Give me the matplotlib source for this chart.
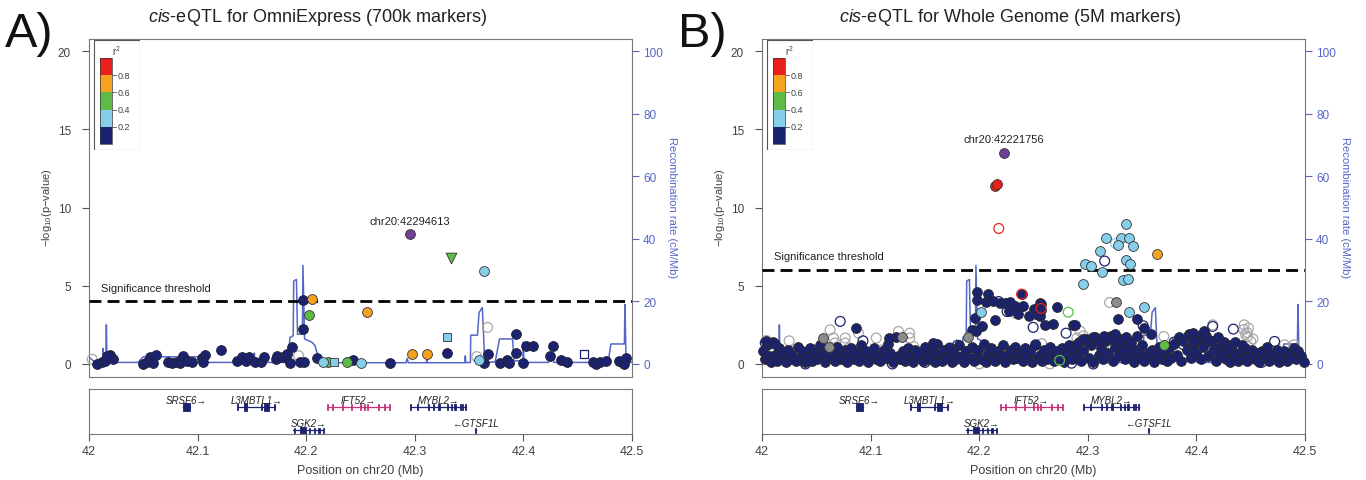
import numpy as np
import matplotlib.pyplot as plt
import matplotlib.patches as mpatches

plt.rcParams['font.family'] = ['Liberation Sans', 'DejaVu Sans']
plt.rcParams['mathtext.fontset'] = 'custom'
plt.rcParams['mathtext.rm'] = 'Liberation Sans'
plt.rcParams['mathtext.it'] = 'Liberation Sans:italic'

# ── colours ────────────────────────────────────────────────────────────────
NAVY   = '#1B2270'
LBLUE  = '#87CEEB'
GREEN  = '#5DBB46'
ORANGE = '#F5A21E'
RED    = '#E8211C'
PURPLE = '#6F3F98'
GREY_H = '#A8A8A8'
GREY_F = '#8C8C8C'
RECOMB = '#5566C8'
TXT    = '#404040'

# ── recombination rate (cM/Mb), same map for both panels ───────────────────
rec_pos = [42.000, 42.004, 42.007, 42.0128, 42.013, 42.0133, 42.0155, 42.016, 42.0166,
           42.045, 42.050, 42.100, 42.110, 42.152, 42.1523, 42.1526, 42.181, 42.1813,
           42.1816, 42.1835, 42.185, 42.188, 42.1885, 42.191, 42.192, 42.1965, 42.197,
           42.1985, 42.205, 42.208, 42.212, 42.220, 42.292, 42.293, 42.294, 42.3108,
           42.311, 42.3113, 42.346, 42.3465, 42.347, 42.3512, 42.3515, 42.3577, 42.3592,
           42.3622, 42.3644, 42.374, 42.378, 42.390, 42.3914, 42.3995, 42.400, 42.4005,
           42.423, 42.425, 42.427, 42.428, 42.478, 42.4806, 42.493, 42.4935, 42.4945,
           42.496, 42.500]
rec_val = [2.2, 1.0, 0.3, 0.5, 5.0, 0.5, 0.5, 12.5, 0.5,
           0.5, 2.3, 2.3, 0.5, 0.5, 3.5, 0.5, 0.5, 2.0,
           0.5, 0.6, 8.5, 9.0, 26.5, 27.0, 9.5, 9.5, 31.5,
           8.0, 7.0, 6.0, 1.0, 0.4, 0.4, 1.8, 0.4, 0.4,
           4.3, 0.4, 0.4, 2.6, 0.4, 0.5, 9.2, 9.2, 16.5,
           18.0, 0.6, 0.6, 8.0, 8.0, 1.0, 1.0, 7.0, 0.5,
           0.5, 3.0, 3.0, 0.5, 0.5, 6.4, 6.4, 19.0, 2.0,
           0.5, 0.5]

# ── panel A: OmniExpress ───────────────────────────────────────────────────
a_navy_pos = [42.007, 42.0117, 42.015, 42.019, 42.022, 42.017, 42.050, 42.053, 42.056, 42.059,
              42.062, 42.073, 42.076, 42.081, 42.084, 42.087, 42.090, 42.095, 42.104, 42.107,
              42.105, 42.122, 42.136, 42.141, 42.145, 42.147, 42.153, 42.158, 42.161, 42.172,
              42.173, 42.179, 42.182, 42.187, 42.185, 42.194, 42.197, 42.197, 42.198, 42.210,
              42.243, 42.277, 42.330, 42.364, 42.367, 42.378, 42.385, 42.387, 42.393, 42.393,
              42.400, 42.402, 42.409, 42.4246, 42.4268, 42.4345, 42.4406, 42.4637, 42.4668, 42.4708,
              42.476, 42.4883, 42.4923, 42.4945]
a_navy_val = [0.0, 0.15, 0.2, 0.57, 0.32, 0.5, 0.0, 0.15, 0.43, 0.04,
              0.57, 0.1, 0.04, 0.1, 0.04, 0.5, 0.2, 0.15, 0.36, 0.57,
              0.1, 0.92, 0.2, 0.47, 0.2, 0.47, 0.1, 0.1, 0.43, 0.32,
              0.53, 0.43, 0.64, 1.07, 0.04, 0.1, 2.24, 4.09, 0.1, 0.36,
              0.25, 0.06, 0.70, 0.06, 0.62, 0.06, 0.28, 0.06, 1.92, 0.70,
              0.06, 1.13, 1.13, 0.53, 1.13, 0.28, 0.15, 0.15, 0.0, 0.15,
              0.19, 0.19, 0.0, 0.36]
a_hollow_pos = [42.003, 42.193, 42.357, 42.367]
a_hollow_val = [0.3, 0.53, 0.47, 2.34]
a_orange_pos = [42.205, 42.256, 42.297, 42.311]
a_orange_val = [4.15, 3.35, 0.62, 0.62]
a_green_pos = [42.203, 42.220, 42.238]
a_green_val = [3.13, 0.10, 0.15]
a_lblue_pos = [42.364, 42.2155, 42.250, 42.359]
a_lblue_val = [5.96, 0.10, 0.05, 0.28]
a_lblue_sq_pos = [42.226, 42.330]
a_lblue_sq_val = [0.15, 1.70]
a_green_tri_pos = [42.333]
a_green_tri_val = [6.75]
a_navy_sq_pos = [42.456]
a_navy_sq_val = [0.62]
a_lead = (42.2955, 8.29)
a_lead_label = 'chr20:42294613'
a_thresh = 4.0

# ── panel B: whole genome ──────────────────────────────────────────────────
b_navy_pos = [
    42.001, 42.003, 42.005, 42.006, 42.008, 42.010, 42.012, 42.014, 42.016, 42.018,
    42.020, 42.022, 42.024, 42.026, 42.028, 42.031, 42.033, 42.035, 42.037, 42.040,
    42.042, 42.044, 42.046, 42.049, 42.051, 42.053, 42.055, 42.058, 42.060, 42.062,
    42.064, 42.067, 42.069, 42.071, 42.073, 42.076, 42.078, 42.080, 42.082, 42.085,
    42.087, 42.089, 42.091, 42.094, 42.096, 42.098, 42.100, 42.103, 42.105, 42.107,
    42.109, 42.112, 42.114, 42.116, 42.118, 42.121, 42.123, 42.125, 42.127, 42.130,
    42.132, 42.134, 42.136, 42.139, 42.141, 42.143, 42.145, 42.148, 42.150, 42.152,
    42.154, 42.157, 42.159, 42.161, 42.163, 42.166, 42.168, 42.170, 42.172, 42.175,
    42.177, 42.179, 42.181, 42.184, 42.186, 42.188, 42.190, 42.193, 42.195, 42.197,
    42.199, 42.202, 42.204, 42.206, 42.208, 42.211, 42.213, 42.215, 42.217, 42.220,
    42.222, 42.224, 42.226, 42.229, 42.231, 42.233, 42.235, 42.238, 42.240, 42.242,
    42.244, 42.247, 42.249, 42.251, 42.253, 42.256, 42.258, 42.260, 42.262, 42.265,
    42.267, 42.269, 42.271, 42.274, 42.276, 42.278, 42.280, 42.283, 42.285, 42.287,
    42.289, 42.292, 42.294, 42.296, 42.298, 42.301, 42.303, 42.305, 42.307, 42.310,
    42.312, 42.314, 42.316, 42.319, 42.321, 42.323, 42.325, 42.328, 42.330, 42.332,
    42.334, 42.337, 42.339, 42.341, 42.343, 42.346, 42.348, 42.350, 42.352, 42.355,
    42.357, 42.359, 42.361, 42.364, 42.366, 42.368, 42.370, 42.373, 42.375, 42.377,
    42.379, 42.382, 42.384, 42.386, 42.388, 42.391, 42.393, 42.395, 42.397, 42.400,
    42.402, 42.404, 42.406, 42.409, 42.411, 42.413, 42.415, 42.418, 42.420, 42.422,
    42.424, 42.427, 42.429, 42.431, 42.433, 42.436, 42.438, 42.440, 42.442, 42.445,
    42.447, 42.449, 42.451, 42.454, 42.456, 42.458, 42.460, 42.463, 42.465, 42.467,
    42.469, 42.472, 42.474, 42.476, 42.478, 42.481, 42.483, 42.485, 42.487, 42.490,
    42.492, 42.494, 42.496, 42.499]
b_navy_val = [
    0.8, 0.3, 1.2, 0.5, 0.1, 1.4, 0.6, 0.2, 1.0, 0.4,
    0.7, 0.1, 0.9, 0.3, 0.6, 0.2, 1.1, 0.4, 0.8, 0.1,
    0.5, 1.0, 0.2, 0.7, 0.3, 1.2, 0.6, 0.1, 0.9, 0.4,
    0.8, 0.2, 1.1, 0.5, 0.3, 0.9, 0.1, 0.6, 1.0, 0.3,
    0.7, 0.2, 1.2, 0.4, 0.8, 0.1, 0.6, 1.0, 0.3, 0.5,
    0.2, 0.9, 0.4, 1.3, 0.7, 0.1, 1.7, 0.5, 0.3, 0.8,
    0.2, 1.0, 0.6, 0.1, 0.9, 0.4, 0.7, 0.2, 1.1, 0.5,
    0.3, 0.8, 0.1, 1.3, 0.6, 0.2, 0.9, 0.4, 1.0, 0.1,
    0.7, 0.3, 1.2, 0.5, 0.1, 0.8, 0.4, 1.1, 0.2, 0.6,
    0.9, 0.3, 1.3, 0.1, 0.7, 1.0, 0.4, 0.2, 0.8, 0.5,
    1.2, 0.1, 0.6, 0.9, 0.3, 1.1, 0.4, 0.7, 0.2, 1.0,
    0.5, 0.8, 0.1, 1.2, 0.4, 0.6, 0.2, 0.9, 0.3, 1.1,
    0.6, 0.2, 0.8, 0.4, 1.0, 0.1, 0.7, 1.2, 0.3, 0.9,
    0.5, 1.4, 0.2, 0.8, 1.6, 0.4, 1.2, 0.1, 1.7, 0.6,
    1.0, 0.3, 1.5, 0.7, 1.8, 0.2, 1.1, 0.5, 1.6, 0.9,
    0.3, 1.3, 0.6, 1.0, 0.1, 0.8, 0.4, 1.2, 0.2, 0.7,
    0.5, 0.9, 0.1, 0.6, 1.1, 0.3, 0.8, 0.2, 1.0, 0.4,
    1.3, 0.6, 1.7, 0.2, 1.5, 0.9, 1.9, 0.4, 1.2, 0.7,
    1.6, 0.3, 1.1, 1.8, 0.5, 1.4, 0.8, 0.2, 1.0, 0.6,
    1.2, 0.3, 0.8, 0.1, 0.9, 0.5, 0.2, 0.7, 0.4, 1.0,
    0.2, 0.6, 0.9, 0.3, 0.7, 0.1, 0.8, 0.4, 1.1, 0.2,
    0.6, 0.3, 0.9, 0.1, 0.5, 0.8, 0.2, 0.7, 0.4, 1.0,
    0.3, 0.8, 0.5, 0.1]
# navy points standing above the bulk
b_navy_hi_pos = [42.198, 42.198, 42.208, 42.206, 42.213, 42.219, 42.224, 42.228, 42.239, 42.227,
                 42.246, 42.256, 42.256, 42.261, 42.215, 42.203, 42.196, 42.193, 42.197, 42.087,
                 42.117, 42.157, 42.257, 42.257, 42.272, 42.268, 42.286, 42.288, 42.328, 42.345,
                 42.233, 42.240, 42.250, 42.252, 42.236, 42.300, 42.305, 42.310, 42.315, 42.320,
                 42.325, 42.330, 42.335, 42.340, 42.345, 42.352, 42.358, 42.296, 42.290, 42.392,
                 42.397, 42.402, 42.405, 42.410, 42.414, 42.420, 42.425, 42.430, 42.436, 42.442,
                 42.398, 42.407, 42.004, 42.012]
b_navy_hi_val = [4.63, 4.06, 4.46, 3.99, 4.03, 3.89, 3.89, 3.95, 4.46, 3.40,
                 3.04, 3.89, 3.04, 2.50, 2.82, 2.40, 2.93, 2.18, 2.08, 2.29,
                 1.66, 1.34, 3.82, 3.46, 3.61, 2.55, 2.50, 2.50, 2.89, 2.89,
                 3.70, 3.70, 3.50, 3.20, 3.20, 1.40, 1.70, 1.50, 1.80, 1.60,
                 1.90, 1.50, 1.70, 1.40, 1.80, 2.30, 1.90, 1.60, 1.30, 1.80,
                 2.00, 1.70, 1.90, 1.60, 1.50, 1.70, 1.40, 1.20, 1.40, 1.20,
                 1.50, 2.08, 1.50, 1.30]
b_navy_h_pos = [42.003, 42.072, 42.093, 42.173, 42.180, 42.218, 42.2257, 42.2497, 42.252, 42.280,
                42.3155, 42.351, 42.3795, 42.388, 42.415, 42.434, 42.472, 42.120, 42.285, 42.150,
                42.040, 42.210, 42.305, 42.460]
b_navy_h_val = [1.34, 2.72, 1.48, 1.02, 1.20, 3.99, 3.35, 2.34, 1.23, 1.97,
                6.58, 2.44, 1.40, 1.23, 2.40, 2.23, 1.44, 0.0, 0.05, 0.1,
                0.0, 0.3, 0.0, 0.1]
b_grey_h_pos = [42.004, 42.025, 42.030, 42.047, 42.056, 42.0627, 42.0658, 42.0673, 42.070, 42.0766,
                42.0766, 42.080, 42.0889, 42.095, 42.1052, 42.110, 42.1257, 42.1359, 42.1359, 42.140,
                42.160, 42.185, 42.233, 42.320, 42.370, 42.415, 42.444, 42.448, 42.447, 42.447,
                42.450, 42.448, 42.290, 42.293, 42.296, 42.2995, 42.481, 42.490, 42.318, 42.323,
                42.2575, 42.200, 42.265, 42.445, 42.452, 42.4435]
b_grey_h_val = [1.50, 1.48, 0.90, 0.91, 1.30, 2.18, 1.66, 1.34, 0.80, 1.66,
                1.34, 1.00, 1.97, 0.70, 1.66, 0.90, 2.08, 1.97, 1.66, 1.10,
                0.60, 0.80, 3.25, 3.93, 1.76, 2.50, 2.50, 2.30, 2.00, 1.76,
                1.44, 1.10, 1.66, 2.10, 1.80, 1.40, 1.23, 1.23, 1.44, 1.10,
                1.30, 0.0, 0.0, 1.90, 1.60, 2.20]
b_grey_f_pos = [42.056, 42.062, 42.129, 42.190, 42.3256]
b_grey_f_val = [1.66, 1.06, 1.70, 1.70, 3.93]
b_lblue_pos = [42.3349, 42.3164, 42.3309, 42.338, 42.3278, 42.342, 42.3112, 42.335, 42.339, 42.2974,
               42.3032, 42.3134, 42.3327, 42.337, 42.2955, 42.338, 42.3518, 42.2017]
b_lblue_val = [8.92, 8.03, 8.03, 8.03, 7.60, 7.54, 7.24, 6.64, 6.39, 6.39,
               6.26, 5.90, 5.37, 5.41, 5.12, 3.35, 3.61, 3.35]
b_lblue_h_pos = [42.3256]
b_lblue_h_val = [7.70]
b_orange_pos = [42.364]
b_orange_val = [7.0]
b_green_pos = [42.370]
b_green_val = [1.23]
b_green_h_pos = [42.282, 42.274]
b_green_h_val = [3.31, 0.23]
b_red_pos = [42.2150, 42.2168]
b_red_val = [11.38, 11.48]
b_red_h_pos = [42.218, 42.239, 42.257]
b_red_h_val = [8.66, 4.46, 3.55]
b_lead = (42.2226, 13.5)
b_lead_label = 'chr20:42221756'
b_thresh = 6.0

assert len(b_navy_pos) == len(b_navy_val)
assert len(b_navy_hi_pos) == len(b_navy_hi_val)
assert len(b_grey_h_pos) == len(b_grey_h_val)
assert len(b_navy_h_pos) == len(b_navy_h_val)
assert len(a_navy_pos) == len(a_navy_val)

# ── genes (start, end, exons, row, strand, colour) ──────────────────────────
gene_names = ['SRSF6', 'L3MBTL1', 'IFT52', 'MYBL2', 'SGK2', 'GTSF1L']
gene_start = [42.0869, 42.1370, 42.2200, 42.2961, 42.1880, 42.3555]
gene_end   = [42.0928, 42.1710, 42.2767, 42.3469, 42.2157, 42.3565]
gene_row   = [0, 0, 0, 0, 1, 1]
gene_fwd   = [True, True, True, True, True, False]
gene_col   = [NAVY, NAVY, '#C8327A', NAVY, NAVY, NAVY]
gene_exons = [
    [(42.0869, 42.0928)],
    [(42.1365, 42.1375), (42.1431, 42.1454), (42.1580, 42.1590), (42.1607, 42.1660), (42.1700, 42.1710)],
    [(p - 0.0005, p + 0.0005) for p in [42.2200, 42.2239, 42.2338, 42.2420, 42.2502, 42.2534,
                                         42.2567, 42.2666, 42.2721, 42.2767]],
    [(p - 0.0005, p + 0.0005) for p in [42.2961, 42.3026, 42.3125, 42.3174, 42.3223, 42.3305,
                                         42.3338, 42.3370, 42.3420, 42.3443, 42.3469]],
    [(42.1884, 42.1894), (42.1944, 42.2000), (42.2028, 42.2038), (42.2070, 42.2080),
     (42.2113, 42.2123), (42.2152, 42.2162)],
    [(42.3555, 42.3565)],
]

W, H = 1366, 481
fig = plt.figure(figsize=(W / 100, H / 100), dpi=100)
fig.patch.set_facecolor('white')


def px_axes(left, top, w, h):
    return fig.add_axes([left / W, 1 - (top + h) / H, w / W, h / H])


def draw_legend(left):
    lax = px_axes(left, 40, 47, 111)
    lax.set_xlim(0, 47); lax.set_ylim(111, 0); lax.axis('off')
    lax.add_patch(mpatches.Rectangle((0.5, 0.5), 46, 110, fill=False, ec='#555555', lw=0.8))
    lax.text(23, 11, 'r$^2$', ha='center', va='center', fontsize=7, color=TXT)
    band_cols = [RED, ORANGE, GREEN, LBLUE, NAVY]
    for i, c in enumerate(band_cols):
        lax.add_patch(mpatches.Rectangle((7, 19 + i * 17.2), 12, 17.2, fc=c, ec='none'))
    lax.add_patch(mpatches.Rectangle((7, 19), 12, 86, fill=False, ec='#333333', lw=0.5))
    for i, lab in enumerate(['0.8', '0.6', '0.4', '0.2']):
        yy = 19 + (i + 1) * 17.2
        lax.plot([19, 23], [yy, yy], color='#555555', lw=0.6)
        lax.text(25, yy, lab, ha='left', va='center', fontsize=6.5, color=TXT)


def pts(ax, x, y, face, edge='#333333', marker='o', s=50, lw=0.6, z=3):
    ax.scatter(x, y, s=s, marker=marker, facecolors=face, edgecolors=edge,
               linewidths=lw, zorder=z, clip_on=False)


def draw_panel(left, letter, title, title_cx, thresh, lead, lead_label, draw_points):
    ax_r = px_axes(left, 39.5, 543, 338)
    ax_r.plot(rec_pos, rec_val, color=RECOMB, lw=1.1, zorder=1)
    ax_r.set_xlim(42, 42.5)
    ax_r.set_ylim(-4, 104)
    ax_r.set_xticks([])
    for sp in ax_r.spines.values():
        sp.set_color('#777777'); sp.set_linewidth(0.8)

    ax = ax_r.twinx()
    ax_r.yaxis.tick_right()
    ax.yaxis.tick_left()
    ax_r.set_yticks([0, 20, 40, 60, 80, 100])
    ax_r.tick_params(axis='y', colors=RECOMB, labelcolor=RECOMB, labelsize=8.5,
                     length=5, width=0.8, pad=3)
    ax.set_xlim(42, 42.5)
    ax.set_ylim(-0.8, 20.8)
    ax.set_yticks([0, 5, 10, 15, 20])
    ax.tick_params(axis='y', colors='#555555', labelcolor=TXT, labelsize=8.5,
                   length=5, width=0.8, pad=8)
    for sp in ax.spines.values():
        sp.set_visible(False)

    ax.axhline(thresh, color='black', lw=2, ls=(0, (4.3, 2.2)), zorder=2)
    ax.text(42.011, thresh + 0.55, 'Significance threshold', fontsize=8, color='#222222',
            ha='left', va='bottom')
    draw_points(ax)
    pts(ax, [lead[0]], [lead[1]], PURPLE, z=6)
    ax.annotate(lead_label, lead, xytext=(0, 6), textcoords='offset points',
                ha='center', va='bottom', fontsize=8, color='#222222')

    fig.text((left - 42) / W, 1 - 208 / H, r'$-$log$_{10}$(p$-$value)', rotation=90,
             ha='center', va='center', fontsize=8, color=TXT)
    fig.text((left + 583) / W, 1 - 208 / H, 'Recombination rate (cM/Mb)', rotation=270,
             ha='center', va='center', fontsize=8, color=RECOMB)
    fig.text(title_cx / W, 1 - 17 / H, r'$\it{cis}$-eQTL for ' + title, ha='center',
             va='center', fontsize=13, color='#222222')
    fig.text((left - 84) / W, 1 - 47 / H, letter, ha='left', va='baseline',
             fontsize=35, color='#111111')

    # gene track
    gax = px_axes(left, 390, 543, 45)
    gax.set_xlim(42, 42.5); gax.set_ylim(0, 1)
    gax.set_yticks([])
    gax.set_xticks([42, 42.1, 42.2, 42.3, 42.4, 42.5])
    gax.set_xticklabels(['42', '42.1', '42.2', '42.3', '42.4', '42.5'])
    gax.tick_params(axis='x', colors='#555555', labelcolor=TXT, labelsize=9,
                    length=5, width=0.8, pad=3)
    for sp in gax.spines.values():
        sp.set_color('#777777'); sp.set_linewidth(0.8)
    gax.set_xlabel('Position on chr20 (Mb)', fontsize=9, color=TXT, labelpad=5)
    for name, st, en, row, fwd, col, exons in zip(gene_names, gene_start, gene_end, gene_row,
                                                  gene_fwd, gene_col, gene_exons):
        gy = 0.6 if row == 0 else 0.08
        ty = 0.76 if row == 0 else 0.24
        gax.plot([st, en], [gy, gy], color=col, lw=0.9)
        for e0, e1 in exons:
            hh = 0.16 if (e1 - e0) > 0.002 else 0.12
            gax.add_patch(mpatches.Rectangle((e0, gy - hh / 2), e1 - e0, hh, fc=col, ec=col, lw=0.6))
        lab = name + '\u2192' if fwd else '\u2190' + name
        gax.text((st + en) / 2, ty, lab, ha='center', va='center', fontsize=7,
                 style='italic', color='#222222')

    draw_legend(left + 4)


def points_a(ax):
    pts(ax, a_hollow_pos, a_hollow_val, 'none', edge=GREY_H, lw=0.9)
    pts(ax, a_navy_pos, a_navy_val, NAVY, edge='#222233')
    pts(ax, a_navy_sq_pos, a_navy_sq_val, 'none', edge=NAVY, marker='s', s=36, lw=0.9)
    pts(ax, a_orange_pos, a_orange_val, ORANGE, z=4)
    pts(ax, a_green_pos, a_green_val, GREEN, z=4)
    pts(ax, a_lblue_pos, a_lblue_val, LBLUE, z=4)
    pts(ax, a_lblue_sq_pos, a_lblue_sq_val, LBLUE, marker='s', s=40, z=4)
    pts(ax, a_green_tri_pos, a_green_tri_val, GREEN, marker='v', s=60, z=4)


def points_b(ax):
    pts(ax, b_grey_h_pos, b_grey_h_val, 'none', edge=GREY_H, lw=0.9)
    pts(ax, b_navy_h_pos, b_navy_h_val, 'none', edge=NAVY, lw=0.9)
    pts(ax, b_navy_pos, b_navy_val, NAVY, edge='#2a2a2a')
    pts(ax, b_navy_hi_pos, b_navy_hi_val, NAVY, edge='#2a2a2a')
    pts(ax, b_grey_f_pos, b_grey_f_val, GREY_F, z=4)
    pts(ax, b_lblue_h_pos, b_lblue_h_val, 'none', edge=LBLUE, lw=0.9, z=4)
    pts(ax, b_lblue_pos, b_lblue_val, LBLUE, z=4)
    pts(ax, b_orange_pos, b_orange_val, ORANGE, z=4)
    pts(ax, b_green_h_pos, b_green_h_val, 'none', edge=GREEN, lw=0.9, z=4)
    pts(ax, b_green_pos, b_green_val, GREEN, z=4)
    pts(ax, b_red_h_pos, b_red_h_val, 'none', edge=RED, lw=0.9, z=5)
    pts(ax, b_red_pos, b_red_val, RED, z=5)


draw_panel(89, 'A)', 'OmniExpress (700k markers)', 317, a_thresh, a_lead, a_lead_label, points_a)
draw_panel(762, 'B)', 'Whole Genome (5M markers)', 1010, b_thresh, b_lead, b_lead_label, points_b)

fig.savefig('out.png', dpi=100, facecolor='white')
